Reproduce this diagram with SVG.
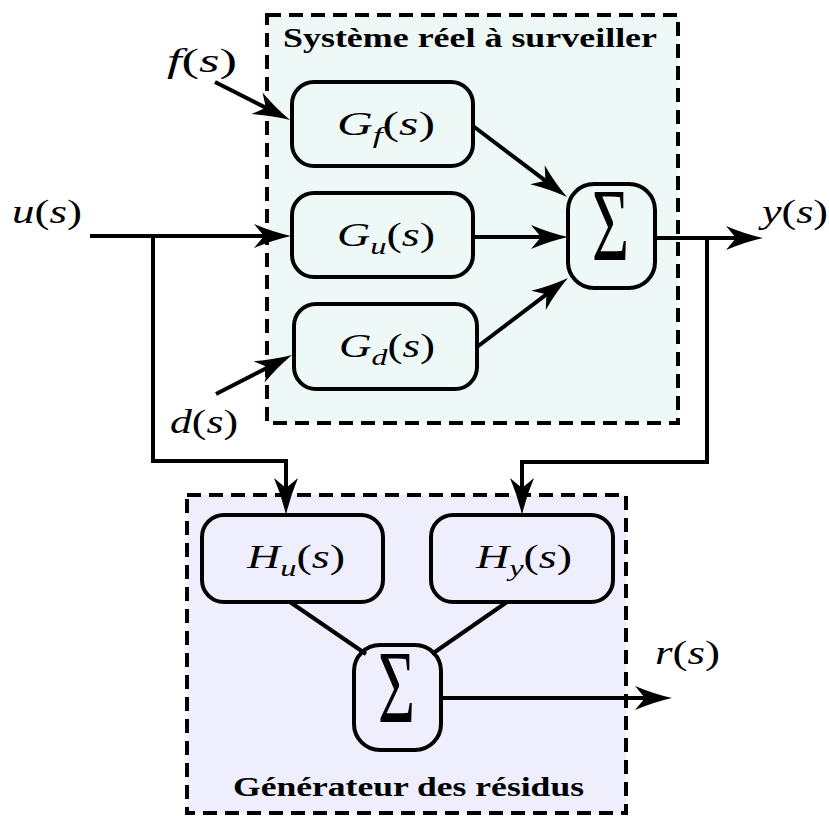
<svg xmlns="http://www.w3.org/2000/svg" width="829" height="816" viewBox="0 0 829 816">
  <style>
    .frame { stroke: #000; stroke-width: 4; stroke-dasharray: 14 8; }
    .blk { stroke: #000; stroke-width: 4; }
    .wire { fill: none; stroke: #000; stroke-width: 4; }
    .arr { marker-end: url(#ar); }
    .m { font-family: "Liberation Serif", "DejaVu Serif", serif; font-size: 34px; fill: #000; }
    .i { font-style: italic; }
    .sub { font-size: 24px; font-style: italic; }
    .sig { font-family: "Liberation Serif", "DejaVu Serif", serif; font-size: 104px; fill: #000; }
    .ttl { font-family: "Liberation Serif", "DejaVu Serif", serif; font-size: 27px; font-weight: bold; fill: #000; }
  </style>
  <defs>
    <marker id="ar" viewBox="-40 -14 50 28" refX="-8" refY="0" markerWidth="50" markerHeight="28" markerUnits="userSpaceOnUse" orient="auto">
      <path d="M0,0 Q-18,-4 -37,-12 L-27,0 L-37,12 Q-18,4 0,0 Z" fill="#000"/>
    </marker>
  </defs>

  <!-- monitored system frame -->
  <g id="systeme">
    <rect x="267" y="15" width="411" height="408" fill="#eef8f7" class="frame"/>
    <text class="ttl" x="283" y="47" textLength="374" lengthAdjust="spacingAndGlyphs">Système réel à surveiller</text>
  </g>

  <!-- residual generator frame -->
  <g id="generateur">
    <rect x="187" y="495" width="439" height="318" fill="#eeeefc" class="frame"/>
    <text class="ttl" x="233" y="796" textLength="351" lengthAdjust="spacingAndGlyphs">Générateur des résidus</text>
  </g>

  <g id="Gf">
    <rect x="292" y="82" width="181" height="84" rx="22" fill="#eef8f7" class="blk"/>
    <text class="m" x="337" y="135" textLength="98" lengthAdjust="spacingAndGlyphs"><tspan class="i">G</tspan><tspan class="sub" dy="8">f</tspan><tspan dy="-8">(</tspan><tspan class="i">s</tspan>)</text>
  </g>
  <g id="Gu">
    <rect x="292" y="193" width="181" height="84" rx="22" fill="#eef8f7" class="blk"/>
    <text class="m" x="337" y="246" textLength="98" lengthAdjust="spacingAndGlyphs"><tspan class="i">G</tspan><tspan class="sub" dy="8">u</tspan><tspan dy="-8">(</tspan><tspan class="i">s</tspan>)</text>
  </g>
  <g id="Gd">
    <rect x="294" y="304" width="183" height="85" rx="22" fill="#eef8f7" class="blk"/>
    <text class="m" x="339" y="357" textLength="96" lengthAdjust="spacingAndGlyphs"><tspan class="i">G</tspan><tspan class="sub" dy="8">d</tspan><tspan dy="-8">(</tspan><tspan class="i">s</tspan>)</text>
  </g>
  <g id="somme1">
    <rect x="568" y="184" width="87" height="104" rx="26" fill="#eef8f7" class="blk"/>
    <text class="sig" x="592" y="260" textLength="37" lengthAdjust="spacingAndGlyphs">Σ</text>
  </g>

  <g id="Hu">
    <rect x="202" y="515" width="181" height="87" rx="22" fill="#eeeefc" class="blk"/>
    <text class="m" x="247" y="568" textLength="98" lengthAdjust="spacingAndGlyphs"><tspan class="i">H</tspan><tspan class="sub" dy="8">u</tspan><tspan dy="-8">(</tspan><tspan class="i">s</tspan>)</text>
  </g>
  <g id="Hy">
    <rect x="431" y="515" width="182" height="87" rx="22" fill="#eeeefc" class="blk"/>
    <text class="m" x="476" y="568" textLength="96" lengthAdjust="spacingAndGlyphs"><tspan class="i">H</tspan><tspan class="sub" dy="8">y</tspan><tspan dy="-8">(</tspan><tspan class="i">s</tspan>)</text>
  </g>
  <g id="somme2">
    <rect x="354" y="645" width="87" height="105" rx="26" fill="#eeeefc" class="blk"/>
    <text class="sig" x="378" y="722" textLength="37" lengthAdjust="spacingAndGlyphs">Σ</text>
  </g>

  <!-- signal labels -->
  <g id="labels">
    <text class="m" x="167" y="72" textLength="70" lengthAdjust="spacingAndGlyphs"><tspan class="i">f</tspan>(<tspan class="i">s</tspan>)</text>
    <text class="m" x="12" y="223" textLength="70" lengthAdjust="spacingAndGlyphs"><tspan class="i">u</tspan>(<tspan class="i">s</tspan>)</text>
    <text class="m" x="762" y="223" textLength="66" lengthAdjust="spacingAndGlyphs"><tspan class="i">y</tspan>(<tspan class="i">s</tspan>)</text>
    <text class="m" x="170" y="433" textLength="68" lengthAdjust="spacingAndGlyphs"><tspan class="i">d</tspan>(<tspan class="i">s</tspan>)</text>
    <text class="m" x="655" y="664" textLength="65" lengthAdjust="spacingAndGlyphs"><tspan class="i">r</tspan>(<tspan class="i">s</tspan>)</text>
  </g>

  <g id="connecteurs">
    <path class="wire arr" d="M90,236 H283"/>
    <path class="wire arr" d="M153,236 V461 H286 V507"/>
    <path class="wire arr" d="M215,82 L282.9,116.4"/>
    <path class="wire arr" d="M216,394 L284.9,358.7"/>
    <path class="wire arr" d="M473,126 L560.6,192.2"/>
    <path class="wire arr" d="M473,237 H560"/>
    <path class="wire arr" d="M477,347 L561.6,282.8"/>
    <path class="wire arr" d="M655,238 H755"/>
    <path class="wire arr" d="M707,238 V462 H522 V507"/>
    <path class="wire" d="M290,602 L366,654"/>
    <path class="wire" d="M507,602 L432,654"/>
    <path class="wire arr" d="M441,698 H664"/>
  </g>
</svg>
